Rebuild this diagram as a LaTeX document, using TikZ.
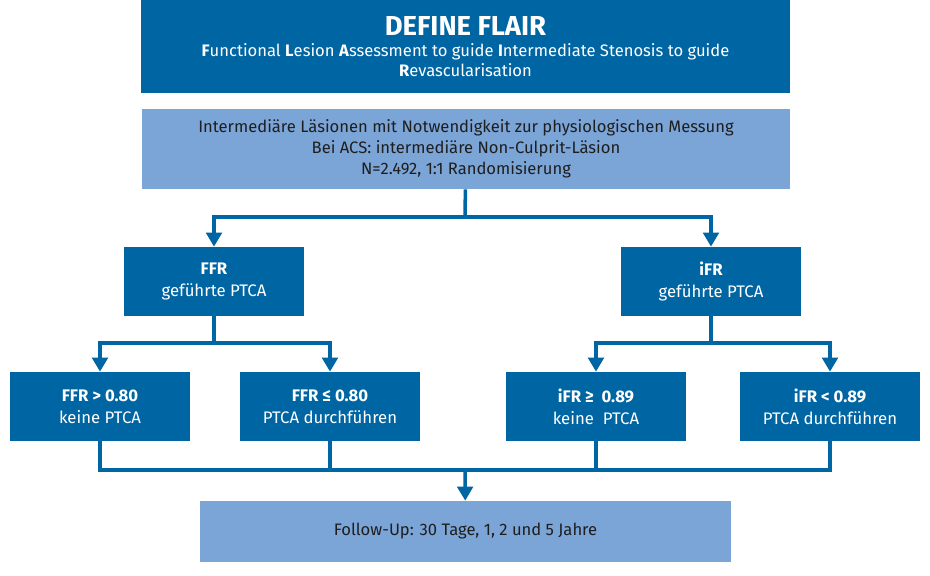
\documentclass[tikz,border=0pt]{standalone}
\usepackage{fontspec}
\setmainfont{Fira Sans}
\usetikzlibrary{arrows.meta,positioning}
\definecolor{darkblue}{HTML}{0065A3}
\definecolor{lightblue}{HTML}{7BA4D7}
\definecolor{textdark}{HTML}{1E1E1E}
\tikzset{
  headbox/.style={fill=darkblue,text=white,minimum width=16.225cm,minimum height=2.325cm,align=center,inner sep=0pt,font=\fontsize{11.8}{14.3}\selectfont},
  infobox/.style={fill=lightblue,text=textdark,align=center,inner sep=0pt,font=\fontsize{11.8}{14.9}\selectfont},
  armbox/.style={fill=darkblue,text=white,minimum width=4.5cm,minimum height=1.725cm,align=center,inner sep=0pt,font=\fontsize{11.9}{15.6}\selectfont},
  link/.style={draw=darkblue,line width=2.5pt},
  arr/.style={link,-{Triangle[length=10pt,width=11pt]}}
}
\begin{document}
\begin{tikzpicture}[x=0.025cm,y=-0.025cm]
\useasboundingbox[fill=white] (0,0) rectangle (930,575);

% header and study population
\node[headbox] (head) at (465.5,46.5) {{\fontsize{19.5}{22}\selectfont\bfseries DEFINE FLAIR}\\[1pt]
  \textbf{F}unctional \textbf{L}esion \textbf{A}ssessment to guide \textbf{I}ntermediate Stenosis to guide\\
  \textbf{R}evascularisation};
\node[infobox,minimum width=16.2cm,minimum height=2cm] (study) at (466,149) {Intermediäre Läsionen mit Notwendigkeit zur physiologischen Messung\\
  Bei ACS: intermediäre Non-Culprit-Läsion\\
  N=2.492, 1:1 Randomisierung};

% randomised arms
\node[armbox] (ffr) at (214,281.5) {\textbf{FFR}\\geführte PTCA};
\node[armbox] (ifr) at (711,281.5) {\textbf{iFR}\\geführte PTCA};
\coordinate (split) at (465,217);
\draw[link] (study) -- (split);
\draw[arr] (split) -| (ffr);
\draw[arr] (split) -| (ifr);

% decisions
\node[armbox] (ffrhigh) at (100,406.5) {\textbf{FFR > 0.80}\\keine PTCA};
\node[armbox] (ffrlow) at (330,406.5) {\textbf{FFR ≤ 0.80}\\PTCA durchführen};
\node[armbox] (ifrhigh) at (596,406.5) {\textbf{iFR ≥ \ 0.89}\\keine \ PTCA};
\node[armbox] (ifrlow) at (830,406.5) {\textbf{iFR < 0.89}\\PTCA durchführen};
\coordinate (ffrsplit) at (214,343);
\coordinate (ifrsplit) at (711,343);
\draw[link] (ffr) -- (ffrsplit);
\draw[arr] (ffrsplit) -| (ffrhigh);
\draw[arr] (ffrsplit) -| (ffrlow);
\draw[link] (ifr) -- (ifrsplit);
\draw[arr] (ifrsplit) -| (ifrhigh);
\draw[arr] (ifrsplit) -| (ifrlow);

% follow-up
\node[infobox,minimum width=13.275cm,minimum height=1.525cm] (follow) at (465.5,531.5) {Follow-Up: 30 Tage, 1, 2 und 5 Jahre};
\coordinate (merge) at (465,470);
\draw[link] (ffrhigh) |- (merge);
\draw[link] (ffrlow) |- (merge);
\draw[link] (ifrhigh) |- (merge);
\draw[link] (ifrlow) |- (merge);
\draw[arr] (merge) -- (follow);
\end{tikzpicture}
\end{document}
